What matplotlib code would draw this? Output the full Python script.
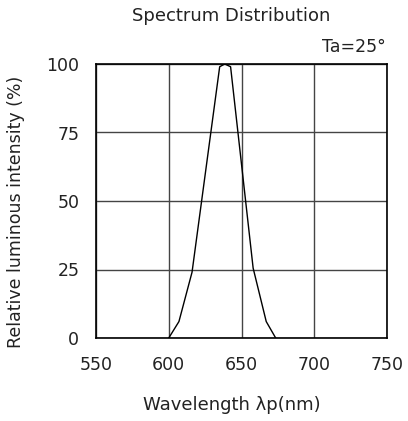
import matplotlib
matplotlib.use("Agg")
import matplotlib.pyplot as plt

# spectrum curve
wavelength = [600, 607, 616, 635, 638.5, 642.5, 658, 667, 673.5]
intensity = [0, 6, 24, 99, 100, 99, 25.5, 6, 0]

x_ticks = [550, 600, 650, 700, 750]
y_ticks = [0, 25, 50, 75, 100]

plt.rcParams['font.family'] = ['DejaVu Sans']

fig = plt.figure(figsize=(4.08, 4.21), dpi=100)
ax = fig.add_axes([96/408, 83/421, 291/408, 274/421])

ax.plot(wavelength, intensity, color='black', linewidth=1.0)

ax.set_xlim(550, 750)
ax.set_ylim(0, 100)
ax.set_xticks(x_ticks)
ax.set_yticks(y_ticks)
ax.tick_params(length=0, labelsize=12.5, colors='#222222')
ax.tick_params(axis='x', pad=13)
ax.tick_params(axis='y', pad=12)
ax.grid(True, color='#444444', linewidth=1.0)
for s in ax.spines.values():
    s.set_color('black')
    s.set_linewidth(1.2)

fig.text(231/408, 1 - 16/421, "Spectrum Distribution", ha='center', va='center', fontsize=13, color='#222222')
fig.text(386/408, 1 - 47/421, "Ta=25°", ha='right', va='center', fontsize=12.5, color='#222222')
fig.text(232/408, 1 - 405/421, "Wavelength λp(nm)", ha='center', va='center', fontsize=13, color='#222222')
fig.text(16/408, 1 - 212/421, "Relative luminous intensity (%)", ha='center', va='center',
         rotation=90, fontsize=12.5, color='#222222')

fig.savefig("out.png", dpi=100)
